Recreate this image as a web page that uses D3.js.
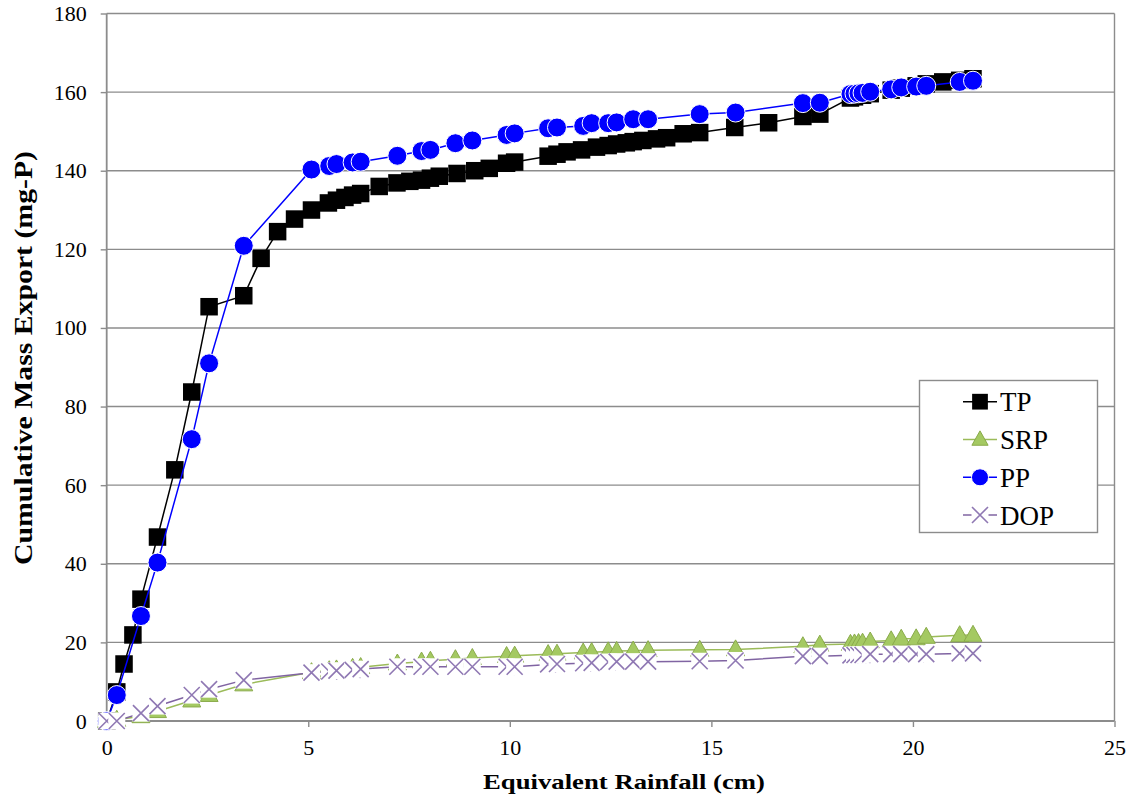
<!DOCTYPE html>
<html>
<head>
<meta charset="utf-8">
<script src="https://cdn.jsdelivr.net/npm/d3@7"></script>
<style>
  html, body { margin: 0; padding: 0; background: #ffffff; }
  svg { display: block; }
  text { font-family: "Liberation Serif", "Times New Roman", serif; fill: #000; }
</style>
</head>
<body>
<svg id="chart" width="1136" height="811"></svg>
<script>
// Cumulative phosphorus mass export versus equivalent rainfall

// TP sampling (cm) and cumulative export (mg-P)
const tpRain = [0, 0.25, 0.43, 0.65, 0.85, 1.26, 1.69, 2.11, 2.54, 3.40, 3.83, 4.24, 4.66, 5.08,
  5.50, 5.70, 5.91, 6.10, 6.30, 6.76, 7.20, 7.52, 7.81, 8.03, 8.25, 8.69, 9.13, 9.49, 9.92, 10.12,
  10.95, 11.17, 11.42, 11.78, 12.15, 12.44, 12.65, 12.89, 13.06, 13.30, 13.64, 13.89, 14.30, 14.71,
  15.58, 16.42, 17.27, 17.69, 18.45, 18.55, 18.75, 18.94, 19.46, 19.71, 20.08, 20.33, 20.74, 21.16, 21.49];
const tpMass = [0, 7.4, 14.5, 21.9, 31.0, 46.8, 63.9, 83.7, 105.4, 108.2, 117.7, 124.5, 127.7, 130.0,
  131.8, 132.5, 133.2, 133.8, 134.2, 136.0, 136.9, 137.3, 137.6, 138.1, 138.6, 139.3, 140.0, 140.6, 141.9, 142.2,
  143.7, 144.2, 144.8, 145.3, 146.0, 146.4, 146.8, 147.1, 147.4, 147.7, 148.1, 148.4, 149.4, 149.7,
  151.0, 152.2, 153.8, 154.4, 158.5, 158.8, 159.2, 159.6, 160.5, 161.0, 161.6, 162.1, 162.6, 163.0, 163.4];

// SRP, PP and DOP share one sampling (cm)
const fracRain = [0, 0.25, 0.85, 1.26, 2.11, 2.54, 3.40, 5.08, 5.52, 5.70, 6.10, 6.30, 7.21, 7.81, 8.03,
  8.65, 9.07, 9.92, 10.12, 10.95, 11.17, 11.82, 12.03, 12.44, 12.65, 13.06, 13.43, 14.71, 15.60,
  17.27, 17.69, 18.45, 18.55, 18.65, 18.75, 18.94, 19.46, 19.71, 20.08, 20.33, 21.16, 21.49];
const srpMass = [0, 0.3, 1.2, 2.5, 5.2, 6.6, 9.3, 12.4, 12.9, 13.1, 13.5, 13.7, 14.6, 15.1, 15.3,
  15.7, 16.0, 16.5, 16.6, 17.0, 17.1, 17.4, 17.5, 17.7, 17.8, 17.9, 18.0, 18.1, 18.2,
  19.0, 19.4, 19.6, 19.7, 19.8, 19.9, 20.2, 20.5, 20.9, 21.0, 21.4, 21.8, 21.9];
const ppMass = [0, 6.6, 26.7, 40.3, 71.7, 91.0, 120.9, 140.3, 141.2, 141.7, 142.1, 142.3, 143.8, 145.0, 145.3,
  147.0, 147.7, 149.1, 149.5, 150.8, 151.0, 151.4, 152.1, 152.1, 152.3, 153.1, 153.1, 154.4, 154.8,
  157.2, 157.3, 159.5, 159.6, 159.7, 159.8, 160.1, 160.7, 161.2, 161.4, 161.6, 162.6, 162.9];
const dopMass = [0, 0, 2.0, 3.8, 6.6, 8.1, 10.4, 12.3, 12.6, 12.8, 13.0, 13.2, 13.8, 13.8, 13.8,
  13.8, 13.8, 13.8, 13.8, 14.4, 14.5, 14.7, 14.8, 15.0, 15.1, 15.1, 15.1, 15.2, 15.4,
  16.5, 16.5, 16.7, 16.8, 16.8, 16.8, 17.0, 17.0, 17.0, 17.0, 17.0, 17.2, 17.2];

const seriesNames = ["TP", "SRP", "PP", "DOP"];
const xTicks = [0, 5, 10, 15, 20, 25];
const yTicks = [0, 20, 40, 60, 80, 100, 120, 140, 160, 180];

const xTitle = "Equivalent Rainfall (cm)";
const yTitle = "Cumulative Mass Export (mg-P)";

// ---- layout ----
const svg = d3.select("#chart");
const plot = { left: 106.7, right: 1114.5, top: 13.5, bottom: 721 };

const x = d3.scaleLinear().domain([0, 25]).range([plot.left, plot.right]);
const y = d3.scaleLinear().domain([0, 180]).range([plot.bottom, plot.top]);

const gridColor = "#8c8c8c";

// horizontal gridlines
svg.append("g")
  .selectAll("line")
  .data(yTicks.filter(v => v > 0))
  .join("line")
  .attr("x1", plot.left).attr("x2", plot.right)
  .attr("y1", d => y(d)).attr("y2", d => y(d))
  .attr("stroke", gridColor).attr("stroke-width", 1.4);

// right edge of plot area
svg.append("line")
  .attr("x1", plot.right).attr("x2", plot.right)
  .attr("y1", plot.top).attr("y2", plot.bottom)
  .attr("stroke", gridColor).attr("stroke-width", 1.4);

// axes
const xAxis = d3.axisBottom(x).tickValues(xTicks).tickSize(6).tickPadding(12).tickFormat(d3.format("d"));
const yAxis = d3.axisLeft(y).tickValues(yTicks).tickSize(6).tickPadding(14).tickFormat(d3.format("d"));

const gx = svg.append("g").attr("transform", `translate(0,${plot.bottom})`).call(xAxis);
const gy = svg.append("g").attr("transform", `translate(${plot.left},0)`).call(yAxis);

[gx, gy].forEach(g => {
  g.select(".domain").attr("stroke", gridColor).attr("stroke-width", 1.8);
  g.selectAll(".tick line").attr("stroke", gridColor).attr("stroke-width", 1.4);
  g.selectAll(".tick text")
    .attr("font-family", "'Liberation Serif', 'Times New Roman', serif")
    .attr("font-size", 22)
    .attr("fill", "#000");
});
gx.select(".domain").attr("d", `M${plot.left},0H${plot.right}`);
gy.select(".domain").attr("d", `M0,${plot.bottom}V${plot.top}`);

// axis titles
svg.append("text")
  .attr("x", (483 + 765) / 2).attr("y", 789)
  .attr("text-anchor", "middle")
  .attr("font-size", 22).attr("font-weight", "bold")
  .attr("textLength", 282).attr("lengthAdjust", "spacingAndGlyphs")
  .text(xTitle);

svg.append("text")
  .attr("transform", `translate(31.5,${(150 + 566) / 2}) rotate(-90)`)
  .attr("text-anchor", "middle")
  .attr("font-size", 25).attr("font-weight", "bold")
  .attr("textLength", 414).attr("lengthAdjust", "spacingAndGlyphs")
  .text(yTitle);

// ---- series styles ----
const styles = {
  TP:  { line: "#000000" },
  SRP: { line: "#9bbb59" },
  PP:  { line: "#0000ff" },
  DOP: { line: "#8064a2" }
};

const lineGen = d3.line().x(d => x(d[0])).y(d => y(d[1]));

function drawMarker(g, name, cx, cy, scale = 1) {
  if (name === "TP") {
    const s = 17.5 * scale;
    g.append("rect").attr("x", cx - s / 2).attr("y", cy - s / 2)
      .attr("width", s).attr("height", s).attr("fill", "#000");
  } else if (name === "PP") {
    g.append("circle").attr("cx", cx).attr("cy", cy).attr("r", 9.5 * scale)
      .attr("fill", "#0000ff").attr("stroke", "#ffffff").attr("stroke-width", 1);
  } else if (name === "SRP") {
    const h = 16 * scale, w = 18 * scale;
    g.append("path")
      .attr("d", `M${cx},${cy - h * 0.6}L${cx + w / 2},${cy + h * 0.4}L${cx - w / 2},${cy + h * 0.4}Z`)
      .attr("fill", "#a4c962").attr("stroke", "#8aab4b").attr("stroke-width", 1);
  } else if (name === "DOP") {
    const s = 8 * scale;
    if (scale === 1) {
      g.append("rect").attr("x", cx - 8.5).attr("y", cy - 8.5)
        .attr("width", 17).attr("height", 17).attr("fill", "#ffffff");
    }
    g.append("path")
      .attr("d", `M${cx - s},${cy - s}L${cx + s},${cy + s}M${cx - s},${cy + s}L${cx + s},${cy - s}`)
      .attr("stroke", "#8f78b3").attr("stroke-width", 1.6).attr("fill", "none");
  }
}

const seriesData = {
  TP:  d3.zip(tpRain, tpMass),
  SRP: d3.zip(fracRain, srpMass),
  PP:  d3.zip(fracRain, ppMass),
  DOP: d3.zip(fracRain, dopMass)
};

seriesNames.forEach(name => {
  const g = svg.append("g").attr("class", "series-" + name);
  g.append("path")
    .datum(seriesData[name])
    .attr("d", lineGen)
    .attr("fill", "none")
    .attr("stroke", styles[name].line)
    .attr("stroke-width", 1.5);
  seriesData[name].forEach(d => drawMarker(g, name, x(d[0]), y(d[1])));
});

// ---- legend ----
const legend = svg.append("g");
legend.append("rect")
  .attr("x", 919.5).attr("y", 380.5).attr("width", 178).attr("height", 152)
  .attr("fill", "#ffffff").attr("stroke", gridColor).attr("stroke-width", 1.4);

const legendRows = [401.7, 439.5, 477.3, 515];
seriesNames.forEach((name, i) => {
  const cy = legendRows[i];
  legend.append("line")
    .attr("x1", 963).attr("x2", 997).attr("y1", cy).attr("y2", cy)
    .attr("stroke", styles[name].line).attr("stroke-width", 1.5);
  drawMarker(legend, name, 980, cy, name === "DOP" ? 1 : 0.9);
  legend.append("text")
    .attr("x", 1000).attr("y", cy + 9.5)
    .attr("font-size", 27)
    .text(name);
});
</script>
</body>
</html>
